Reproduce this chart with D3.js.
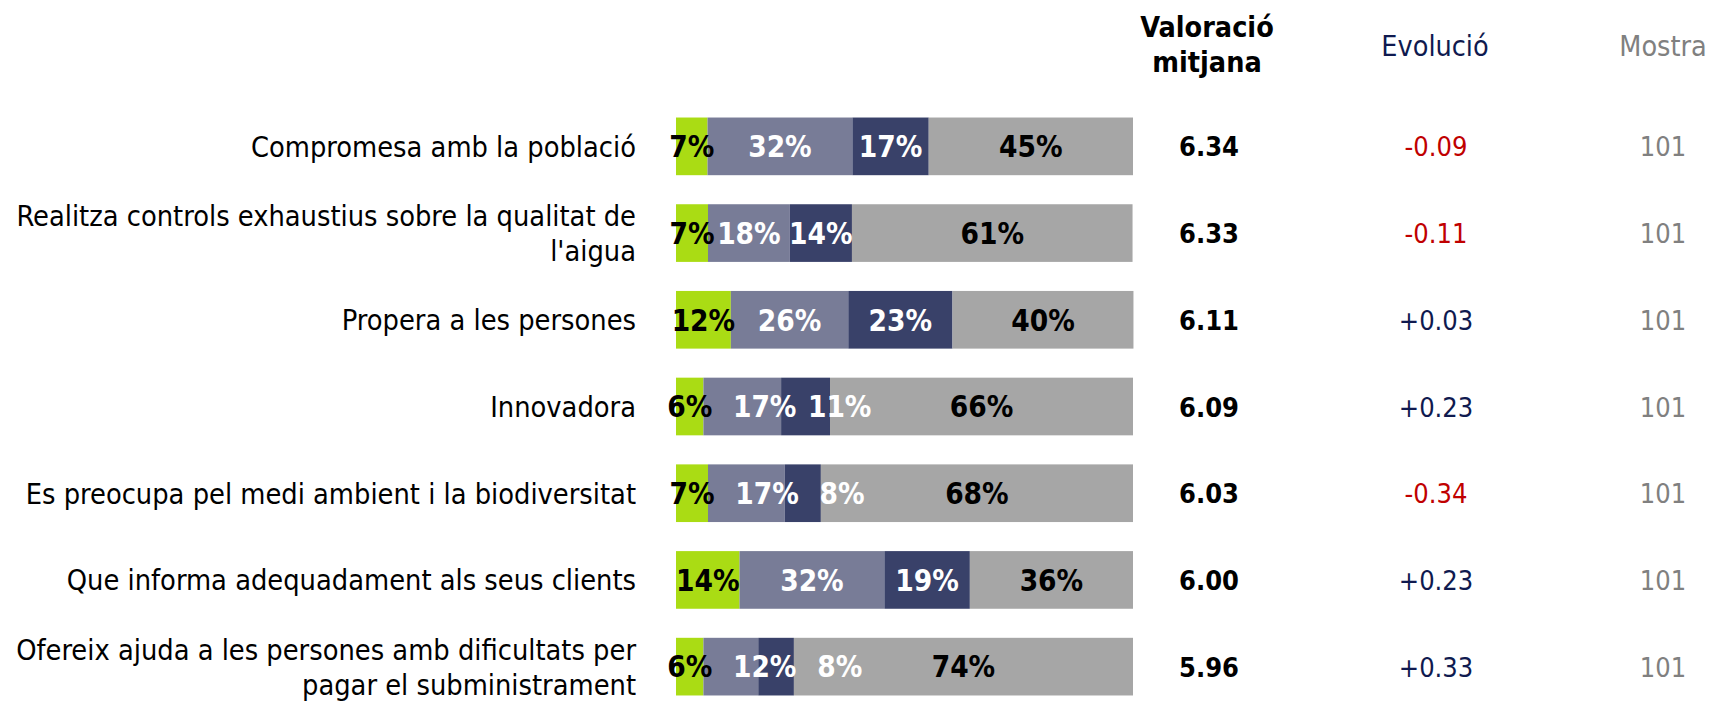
<!DOCTYPE html>
<html>
<head>
<meta charset="utf-8">
<script src="https://cdn.jsdelivr.net/npm/d3@7/dist/d3.min.js"></script>
<style>
  body { margin: 0; background: #fff; }
  svg text { font-family: "DejaVu Sans Condensed", "DejaVu Sans", sans-serif; font-stretch: condensed; }
</style>
</head>
<body>
<svg id="chart"></svg>
<script>
// Data
const categories = [
    "Compromesa amb la població",
    "Realitza controls exhaustius sobre la qualitat de\nl'aigua",
    "Propera a les persones",
    "Innovadora",
    "Es preocupa pel medi ambient i la biodiversitat",
    "Que informa adequadament als seus clients",
    "Ofereix ajuda a les persones amb dificultats per\npagar el subministrament"
];
const seriesKeys = ["s1", "s2", "s3", "s4"];
const s1 = [6.9, 7.0, 12.0, 6.0, 7.0, 13.9, 6.0];
const s2 = [31.7, 17.9, 25.7, 17.0, 16.8, 31.7, 12.0];
const s3 = [16.7, 13.6, 22.8, 10.7, 7.9, 18.7, 7.8];
const s4 = [44.7, 61.4, 39.6, 66.3, 68.3, 35.7, 74.2];
const valoracio = [6.34, 6.33, 6.11, 6.09, 6.03, 6.00, 5.96];
const evolucio = [-0.09, -0.11, 0.03, 0.23, -0.34, 0.23, 0.33];
const mostra = [101, 101, 101, 101, 101, 101, 101];

const colors = {s1: "#aadc14", s2: "#787c97", s3: "#394169", s4: "#a6a6a6"};
const labelColors = {s1: "#000", s2: "#fff", s3: "#fff", s4: "#000"};

const W = 1711, H = 706;
const svg = d3.select("#chart").attr("width", W).attr("height", H);

const rows = categories.map((c, i) => ({cat: c, s1: s1[i], s2: s2[i], s3: s3[i], s4: s4[i]}));

const x = d3.scaleLinear().domain([0, 100]).range([676, 1133]);
const y = d3.scaleBand().domain(categories).range([103, 710])
    .paddingInner(0.335).paddingOuter(0.1675);

const stacked = d3.stack().keys(seriesKeys)(rows);

// bars
svg.append("g").selectAll("g")
    .data(stacked)
    .enter().append("g")
    .attr("fill", d => colors[d.key])
  .selectAll("rect")
    .data(d => d)
    .enter().append("rect")
    .attr("x", d => x(d[0]))
    .attr("y", d => y(d.data.cat))
    .attr("width", d => x(d[1]) - x(d[0]))
    .attr("height", y.bandwidth());

// percentage labels, pushed right when too close to the previous one
const fmtPct = v => Math.round(v) + "%";
const labelG = svg.append("g");
rows.forEach(r => {
    const cy = y(r.cat) + y.bandwidth() / 2;
    let prev = null;
    let start = 0;
    seriesKeys.forEach(k => {
        let cx = x(start + r[k] / 2);
        if (prev !== null && cx - prev < 56) cx = prev + 75;
        prev = cx;
        start += r[k];
        labelG.append("text")
            .attr("x", cx)
            .attr("y", cy + 0.729 * 29.5 / 2)
            .attr("text-anchor", "middle")
            .attr("font-size", 29.5)
            .attr("font-weight", "bold")
            .attr("fill", labelColors[k])
            .text(fmtPct(r[k]));
    });
});

// category labels
const catG = svg.append("g");
categories.forEach(c => {
    const lines = c.split("\n");
    const cy = y(c) + y.bandwidth() / 2;
    const lh = 35;
    const t = catG.append("text")
        .attr("text-anchor", "end")
        .attr("font-size", 28.7)
        .attr("fill", "#000");
    lines.forEach((ln, j) => {
        t.append("tspan")
            .attr("x", 636)
            .attr("y", cy + 10.5 + (j - (lines.length - 1) / 2) * lh)
            .text(ln);
    });
});

// headers
const head = svg.append("g").attr("text-anchor", "middle").attr("font-size", 28.5);
head.append("text").attr("x", 1207).attr("y", 37).attr("font-weight", "bold").text("Valoració");
head.append("text").attr("x", 1207).attr("y", 72).attr("font-weight", "bold").text("mitjana");
head.append("text").attr("x", 1435).attr("y", 56).attr("fill", "#0f1a4f").text("Evolució");
head.append("text").attr("x", 1663).attr("y", 56).attr("fill", "#808080").text("Mostra");

// value columns
const fmtVal = d3.format(".2f");
const fmtEvo = v => (v > 0 ? "+" : v < 0 ? "-" : "") + d3.format(".2f")(Math.abs(v));
const colG = svg.append("g").attr("text-anchor", "middle");
categories.forEach((c, i) => {
    const base = y(c) + y.bandwidth() / 2 + 10;
    colG.append("text").attr("x", 1209).attr("y", base)
        .attr("font-size", 27).attr("font-weight", "bold").attr("fill", "#000")
        .text(fmtVal(valoracio[i]));
    colG.append("text").attr("x", 1436).attr("y", base)
        .attr("font-size", 27).attr("fill", evolucio[i] < 0 ? "#c00000" : "#0f1a4f")
        .text(fmtEvo(evolucio[i]));
    colG.append("text").attr("x", 1663).attr("y", base)
        .attr("font-size", 27).attr("fill", "#808080")
        .text(mostra[i]);
});
</script>
</body>
</html>
